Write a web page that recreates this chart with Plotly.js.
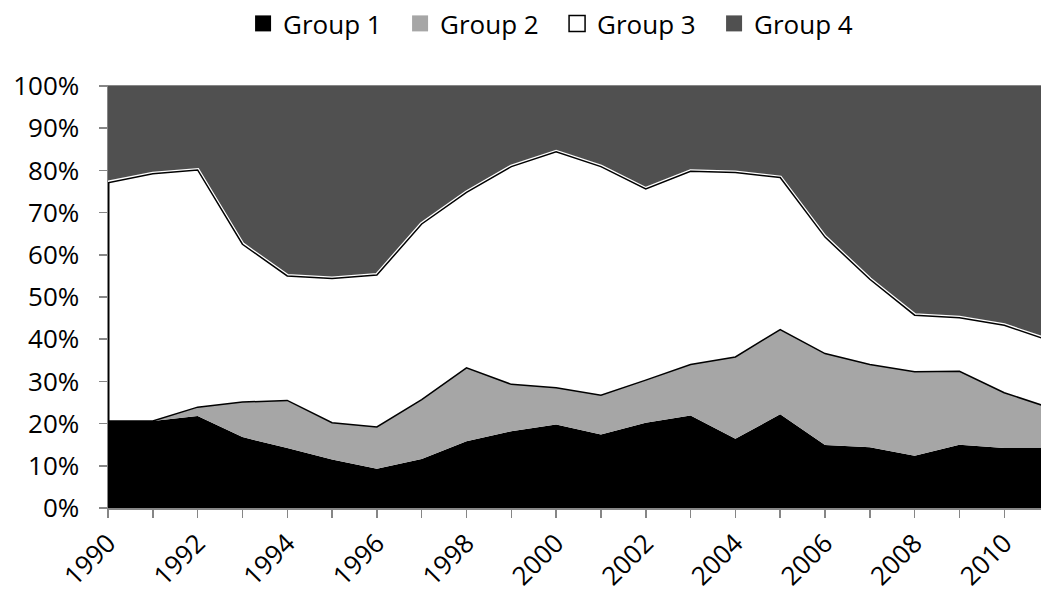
<!DOCTYPE html>
<html><head><meta charset="utf-8">
<script src="https://cdn.plot.ly/plotly-3.0.1.min.js"></script>
<style>html,body{margin:0;padding:0;background:#fff}#chart{width:1041px;height:594px}</style>
</head><body><div id="chart"></div>
<script>
const years = [1990,1991,1992,1993,1994,1995,1996,1997,1998,1999,2000,2001,2002,2003,2004,2005,2006,2007,2008,2009,2010,2011];
const xTickText = ['1990','','1992','','1994','','1996','','1998','','2000','','2002','','2004','','2006','','2008','','2010',''];
const seriesNames = ['Group 1','Group 2','Group 3','Group 4'];
const group1 = [20.6,20.6,21.8,16.8,14.2,11.5,9.3,11.6,15.8,18.2,19.8,17.4,20.2,21.9,16.4,22.2,14.9,14.4,12.4,15.0,14.2,14.2];
const group2 = [0,0,2.1,8.3,11.3,8.7,9.9,14.1,17.4,11.1,8.7,9.3,10.1,12.1,19.4,20.1,21.7,19.6,19.9,17.4,13.1,9.6];
const group3 = [56.5,58.6,56.2,37.4,29.5,34.2,36.0,41.6,41.6,51.6,55.9,54.2,45.3,45.8,43.7,36.0,27.6,20.2,13.4,12.7,16.0,15.9];
const group4 = [22.9,20.8,19.9,37.5,45.0,45.6,44.8,32.7,25.2,19.1,15.6,19.1,24.4,20.2,20.5,21.7,35.8,45.8,54.3,54.9,56.7,60.3];
const yTickVals = [0,10,20,30,40,50,60,70,80,90,100];
const yTickText = ['0%','10%','20%','30%','40%','50%','60%','70%','80%','90%','100%'];

const colors = ['#000000','#a6a6a6','#ffffff','#505050'];
const FONT = '"Open Sans", "Liberation Sans", sans-serif';
const axisGray = '#868686';

const data = [group1, group2, group3, group4];
const traces = [];
data.forEach((vals, i) => {
  traces.push({
    type: 'scatter', x: years, y: vals, stackgroup: 'one', groupnorm: i === 0 ? 'percent' : undefined,
    mode: 'lines', fillcolor: colors[i],
    line: {color: i === 1 ? '#000000' : colors[i], width: i === 1 ? 1.5 : 0, shape: 'linear'},
    showlegend: false, hoverinfo: 'skip'
  });
});
// cumulative shares (percent) for outlines
const tot = years.map((_, k) => group1[k] + group2[k] + group3[k] + group4[k]);
const top2 = years.map((_, k) => (group1[k] + group2[k]) / tot[k] * 100);
const top3 = years.map((_, k) => (group1[k] + group2[k] + group3[k]) / tot[k] * 100);
// boundary of group 3 (white highlight + black outline) drawn on top
traces.push({type:'scatter', x: years, y: top3, mode:'lines', line:{color:'#ffffff', width:4}, showlegend:false, hoverinfo:'skip'});
traces.push({type:'scatter', x: years, y: top3, mode:'lines', line:{color:'#000000', width:1.5}, showlegend:false, hoverinfo:'skip'});
// left edge outline of group 3 area
traces.push({type:'scatter', x: [years[0], years[0]], y: [top2[0], top3[0]], mode:'lines', line:{color:'#000000', width:3}, showlegend:false, hoverinfo:'skip'});
// legend entries
seriesNames.forEach((name, i) => {
  traces.push({
    type:'scatter', x:[null], y:[null], mode:'markers', name: name,
    marker:{symbol:'square', size:18, color: colors[i], line:{color:'#000000', width: i === 2 ? 1.5 : 0}},
    showlegend:true, hoverinfo:'skip'
  });
});

const layout = {
  width: 1041, height: 594,
  margin: {l: 108, r: 0, t: 86, b: 86, pad: 0},
  paper_bgcolor: '#ffffff', plot_bgcolor: '#ffffff',
  font: {family: FONT, size: 26, color: '#000000'},
  showlegend: true,
  hovermode: false,
  legend: {
    orientation: 'h', xref: 'container', yref: 'container',
    x: 0.2335, xanchor: 'left', y: 1, yanchor: 'top',
    font: {family: FONT, size: 26, color: '#000000'},
    entrywidth: 112, entrywidthmode: 'pixels',
    bgcolor: 'rgba(0,0,0,0)', borderwidth: 0, traceorder: 'normal'
  },
  xaxis: {
    range: [1990, 2010.82], tickmode: 'array', tickvals: years, ticktext: xTickText,
    tickangle: -45, ticks: 'outside', ticklen: 8, tickwidth: 1.5, tickcolor: axisGray,
    showline: true, linecolor: axisGray, linewidth: 1.5, mirror: true,
    showgrid: false, zeroline: false, tickfont: {family: FONT, size: 26, color: '#000000'}
  },
  yaxis: {
    range: [0, 100], tickmode: 'array', tickvals: yTickVals, ticktext: yTickText,
    ticks: 'outside', ticklen: 8, tickwidth: 1.5, tickcolor: axisGray, ticklabelstandoff: 14,
    showline: true, linecolor: axisGray, linewidth: 1.5,
    showgrid: false, zeroline: false, tickfont: {family: FONT, size: 26, color: '#000000'}
  }
};
Plotly.newPlot('chart', traces, layout, {displayModeBar: false, staticPlot: true});
</script>
</body></html>
